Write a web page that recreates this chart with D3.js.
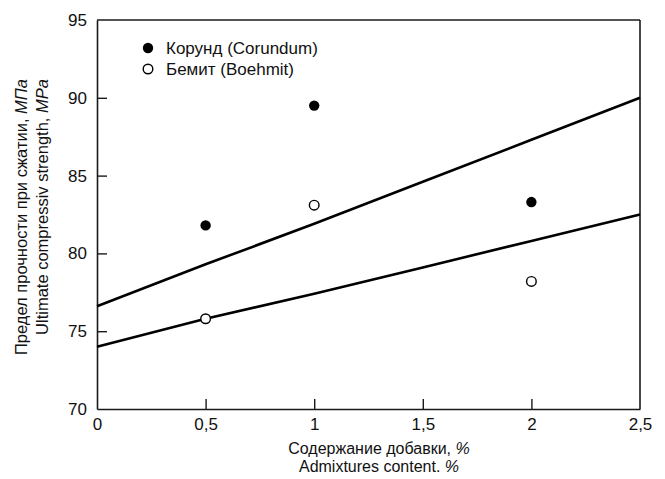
<!DOCTYPE html>
<html>
<head>
<meta charset="utf-8">
<script src="https://cdn.jsdelivr.net/npm/d3@7"></script>
<style>
  body { margin: 0; background: #fff; }
  svg { display: block; font-family: "Liberation Sans", Arial, sans-serif; }
</style>
</head>
<body>
<div id="chart"></div>
<script>
//************* data ***************/
var xTicks = [0, 0.5, 1, 1.5, 2, 2.5];
var yTicks = [70, 75, 80, 85, 90, 95];

// measured points
var corundumX = [0.5, 1, 2];
var corundumY = [81.8, 89.5, 83.3];
var boehmitX = [0.5, 1, 2];
var boehmitY = [75.8, 83.1, 78.2];

// fitted curves
var fitX = [0, 0.5, 1, 1.5, 2, 2.5];
var corundumFit = [76.6, 79.3, 81.9, 84.6, 87.3, 90.0];
var boehmitFit = [74.0, 75.8, 77.4, 79.1, 80.8, 82.5];

var legendLabels = ["Корунд (Corundum)", "Бемит (Boehmit)"];

//************* set dimensions ***************/
var W = 665, H = 479;
var margin = {left: 97, right: 25, top: 20, bottom: 70};
var width = W - margin.left - margin.right,
    height = H - margin.top - margin.bottom;

var svg = d3.select("#chart")
  .append("svg")
    .attr("width", W)
    .attr("height", H);

var g = svg.append("g")
    .attr("transform", "translate(" + margin.left + "," + margin.top + ")");

//************* scales ***************/
var x = d3.scaleLinear().domain([0, 2.5]).range([0, width]);
var y = d3.scaleLinear().domain([70, 95]).range([height, 0]);

var fmt = function(d) { return String(d).replace(".", ","); };

//************* axes ***************/
var xAxis = g.append("g")
    .attr("transform", "translate(0," + height + ")")
    .call(d3.axisBottom(x).tickValues(xTicks).tickFormat(fmt).tickSizeInner(-10).tickSizeOuter(0).tickPadding(9));

var yAxis = g.append("g")
    .call(d3.axisLeft(y).tickValues(yTicks).tickSizeInner(-10).tickSizeOuter(0).tickPadding(10));

[xAxis, yAxis].forEach(function(a) {
  a.select(".domain").attr("stroke", "#1a1a1a").attr("stroke-width", 1.6);
  a.selectAll(".tick line").attr("stroke", "#1a1a1a").attr("stroke-width", 1.4);
  a.selectAll(".tick text").attr("fill", "#111").style("font-size", "17px");
});
// hide inner ticks at the corners
xAxis.selectAll(".tick").filter(function(d) { return d === 0 || d === 2.5; }).select("line").remove();
yAxis.selectAll(".tick").filter(function(d) { return d === 70 || d === 95; }).select("line").remove();

// top and right frame
g.append("line").attr("x1", 0).attr("x2", width).attr("y1", 0).attr("y2", 0)
  .attr("stroke", "#1a1a1a").attr("stroke-width", 1.6);
g.append("line").attr("x1", width).attr("x2", width).attr("y1", 0).attr("y2", height)
  .attr("stroke", "#1a1a1a").attr("stroke-width", 1.6);

//************* fit lines ***************/
var line = d3.line()
  .x(function(d) { return x(d[0]); })
  .y(function(d) { return y(d[1]); });

[corundumFit, boehmitFit].forEach(function(fit) {
  g.append("path")
    .datum(fitX.map(function(v, i) { return [v, fit[i]]; }))
    .attr("fill", "none")
    .attr("stroke", "#000")
    .attr("stroke-width", 2.6)
    .attr("d", line);
});

//************* points ***************/
g.selectAll("circle.cor")
  .data(corundumX.map(function(v, i) { return [v, corundumY[i]]; }))
  .enter().append("circle")
    .attr("class", "cor")
    .attr("cx", function(d) { return x(d[0]); })
    .attr("cy", function(d) { return y(d[1]); })
    .attr("r", 5.2)
    .attr("fill", "#000");

g.selectAll("circle.boe")
  .data(boehmitX.map(function(v, i) { return [v, boehmitY[i]]; }))
  .enter().append("circle")
    .attr("class", "boe")
    .attr("cx", function(d) { return x(d[0]); })
    .attr("cy", function(d) { return y(d[1]); })
    .attr("r", 4.8)
    .attr("fill", "#fff")
    .attr("stroke", "#000")
    .attr("stroke-width", 1.4);

//************* legend ***************/
var legend = g.append("g").attr("transform", "translate(51,28)");
legendLabels.forEach(function(lab, i) {
  var row = legend.append("g").attr("transform", "translate(0," + (i * 21) + ")");
  row.append("circle")
    .attr("r", i === 0 ? 5.2 : 4.8)
    .attr("fill", i === 0 ? "#000" : "#fff")
    .attr("stroke", "#000")
    .attr("stroke-width", i === 0 ? 0 : 1.4);
  row.append("text")
    .attr("x", 18)
    .attr("y", 6)
    .style("font-size", "17px")
    .attr("fill", "#111")
    .text(lab);
});

//************* axis labels ***************/
var xl = svg.append("text")
  .attr("x", 379).attr("y", 454)
  .attr("text-anchor", "middle")
  .style("font-size", "16px").attr("fill", "#111");
xl.append("tspan").text("Содержание добавки, ");
xl.append("tspan").style("font-style", "italic").text("%");

var xl2 = svg.append("text")
  .attr("x", 379).attr("y", 472)
  .attr("text-anchor", "middle")
  .style("font-size", "16px").attr("fill", "#111");
xl2.append("tspan").text("Admixtures content. ");
xl2.append("tspan").style("font-style", "italic").text("%");

var yl = svg.append("text")
  .attr("transform", "translate(27,217) rotate(-90)")
  .attr("text-anchor", "middle")
  .style("font-size", "16.5px").attr("fill", "#111");
yl.append("tspan").text("Предел прочности при сжатии, ");
yl.append("tspan").style("font-style", "italic").text("МПа");

var yl2 = svg.append("text")
  .attr("transform", "translate(48,207) rotate(-90)")
  .attr("text-anchor", "middle")
  .style("font-size", "16.5px").attr("fill", "#111");
yl2.append("tspan").text("Ultimate compressiv strength, ");
yl2.append("tspan").style("font-style", "italic").text("MPa");
</script>
</body>
</html>
